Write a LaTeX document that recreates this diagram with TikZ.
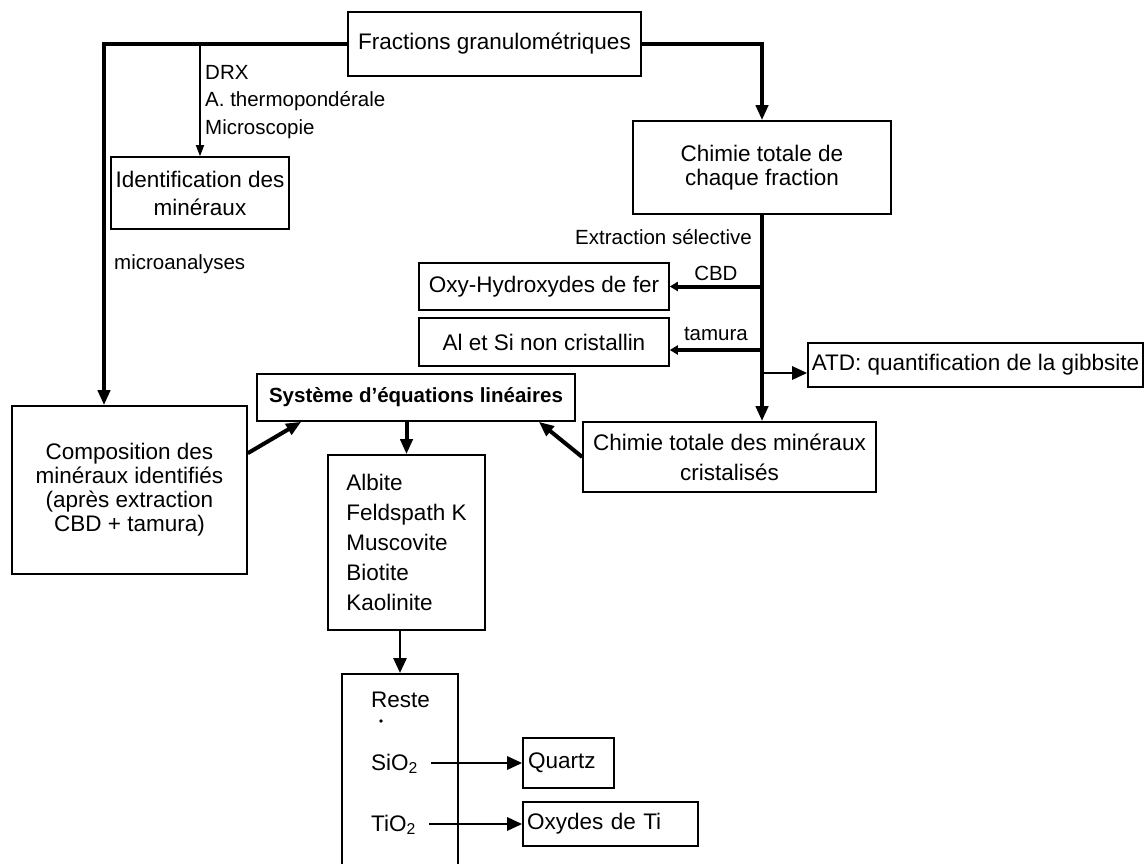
\documentclass[tikz,border=0pt]{standalone}
\usepackage{fontspec}
\setmainfont{Liberation Sans}
\usetikzlibrary{arrows.meta,calc,positioning}

\newcommand{\boxfont}{\fontsize{22.5}{24}\selectfont}
\newcommand{\lblfont}{\fontsize{20.5}{27.5}\selectfont}

\begin{document}
\begin{tikzpicture}[x=1pt,y=-1pt,
    mainline/.style={line width=4pt},
    mainarrow/.style={mainline,-{Triangle[length=15pt,width=12pt]}},
    thinarrow/.style={line width=1.6pt,-{Triangle[length=11pt,width=8pt]}},
    sidearrow/.style={mainline,-{Triangle[length=8pt,width=9pt]}},
    midarrow/.style={line width=2.8pt,-{Triangle[length=15pt,width=13pt]}}]
    \tikzstyle{box}=[draw,line width=1.6pt,inner sep=0pt,align=center,font=\boxfont]
    \tikzstyle{lbl}=[font=\lblfont]
    \path[use as bounding box] (0,0) rectangle (1145,864);
    \clip (0,0) rectangle (1145,864);

    \node [box,minimum width=293pt,minimum height=64pt] (frac) at (494.5,44)
      {Fractions granulométriques};
    \node [box,minimum width=178pt,minimum height=72pt,
      font=\fontsize{22.5}{28}\selectfont] (ident) at (200,193)
      {Identification des\\minéraux};
    \node [box,minimum width=258pt,minimum height=93pt] (chim) at (762,167.5)
      {Chimie totale de\\chaque fraction};
    \node [box,minimum width=250pt,minimum height=47pt] (oxy) at (544,286.5)
      {Oxy-Hydroxydes de fer};
    \node [box,minimum width=250pt,minimum height=48pt] (alsi) at (544,342)
      {Al et Si non cristallin};
    \node [box,minimum width=335pt,minimum height=44pt] (atd) at (975.5,365)
      {ATD: quantification de la gibbsite};
    \node [box,minimum width=318pt,minimum height=47pt,
      font=\bfseries\fontsize{20.5}{24}\selectfont] (sys) at (416,397.5)
      {Système d’équations linéaires};
    \node [box,minimum width=235pt,minimum height=168pt] (compo) at (129.5,490)
      {Composition des\\minéraux identifiés\\(après extraction\\CBD + tamura)};
    \node [box,minimum width=293pt,minimum height=70pt,
      font=\fontsize{22.5}{30}\selectfont] (mincr) at (729.5,457)
      {Chimie totale des minéraux\\cristalisés};
    \node [box,align=left,minimum width=157pt,minimum height=175pt,
      font=\fontsize{22.5}{30}\selectfont] (albite) at (406.5,542.5)
      {Albite\\Feldspath K\\Muscovite\\Biotite\\Kaolinite};
    \node [box,minimum width=116pt,minimum height=230pt,anchor=north] (reste) at (400,673) {};
    \node [box,text width=81pt,inner xsep=5pt,align=left,minimum height=50pt] (quartz)
      at (568.5,763) {Quartz};
    \node [box,text width=167pt,inner xsep=4pt,align=left,minimum height=44pt] (oxti)
      at (610.5,824) {Oxydes de Ti};

    % texte dans le reste
    \node [font=\boxfont,anchor=base west,inner sep=0pt] (restetxt) at (371,707) {Reste};
    \node [circle,fill,inner sep=1.3pt] (point) at (381,721) {};
    \node [font=\boxfont,anchor=base west,inner sep=0pt] (sio) at (371,770) {SiO\textsubscript{2}};
    \node [font=\boxfont,anchor=base west,inner sep=0pt] (tio) at (371,831) {TiO\textsubscript{2}};

    \node [lbl,anchor=north west,align=left,inner sep=0pt] (methodes) at (205,65)
      {DRX\\A. thermopondérale\\Microscopie};
    \node [lbl,anchor=base west,inner sep=0pt] (micro) at (114,269) {microanalyses};
    \node [lbl,anchor=base east,inner sep=0pt] (extr) at (752,244) {Extraction sélective};

    \coordinate (tamin) at ([yshift=-8pt]alsi.east);
    \coordinate (atdin) at ([yshift=-8pt]atd.west);

    \draw [mainarrow] (frac.west) -| ([xshift=-25.5pt]compo.north);
    \draw [thinarrow] (ident.north |- frac.west) -- (ident.north);
    \draw [mainarrow] (frac.east) -| (chim.north);
    \draw [mainarrow] (chim.south) -- (chim.south |- mincr.north);
    \draw [sidearrow] (chim.south |- oxy.east) -- node [lbl,above] {CBD} (oxy.east);
    \draw [sidearrow] (chim.south |- tamin) -- node [lbl,above,yshift=4pt] {tamura} (tamin);
    \draw [midarrow] (chim.south |- atdin) -- (atdin);
    \draw [mainarrow] ($(compo.north east)+(0,48)$) -- ($(sys.south west)+(45,0)$);
    \draw [mainarrow] (mincr.west) -- ($(sys.south east)+(-37,0)$);
    \draw [mainarrow] (sys.south -| albite.north) -- (albite.north);
    \draw [midarrow] (albite.south -| reste.north) -- (reste.north);
    \draw [midarrow] ([xshift=13pt]sio.east |- quartz.west) -- (quartz.west);
    \draw [midarrow] ([xshift=13pt]tio.east |- oxti.west) -- (oxti.west);
  \end{tikzpicture}
\end{document}
